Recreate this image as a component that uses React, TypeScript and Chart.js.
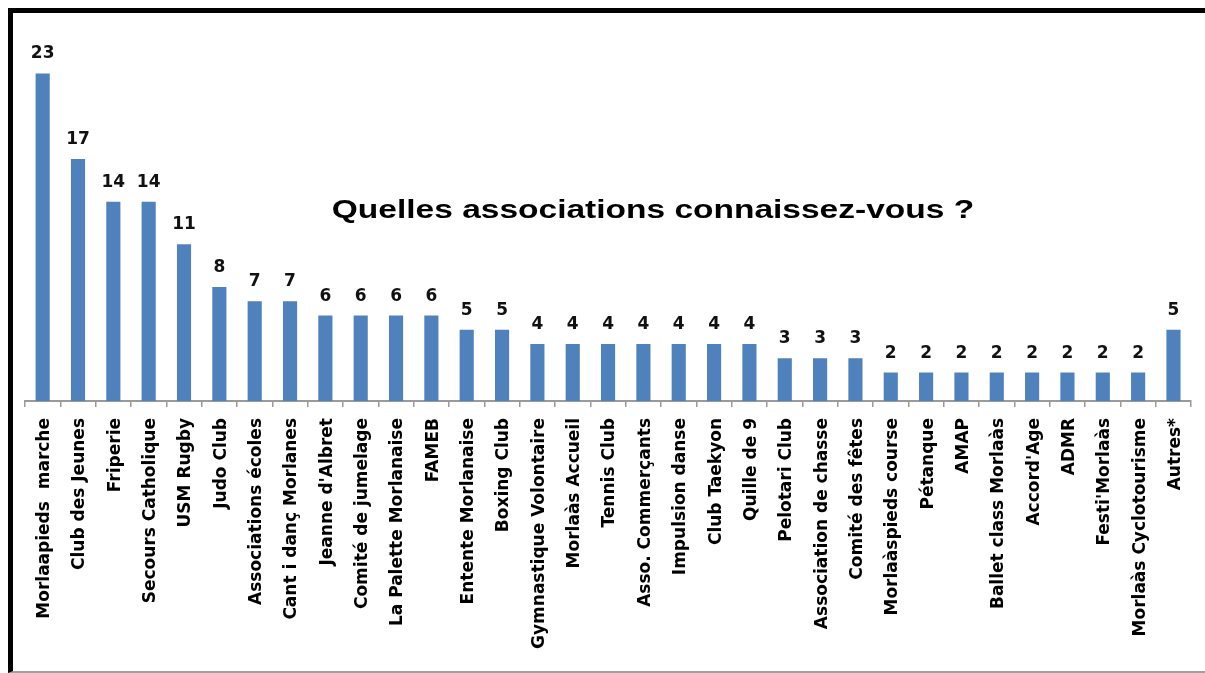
import React, { useEffect, useRef } from "react";
import { Chart, registerables } from "chart.js";

Chart.register(...registerables);

const categories: string[] = [
  "Morlaapieds  marche",
  "Club des Jeunes",
  "Friperie",
  "Secours Catholique",
  "USM Rugby",
  "Judo Club",
  "Associations écoles",
  "Cant i danç Morlanes",
  "Jeanne d'Albret",
  "Comité de jumelage",
  "La Palette Morlanaise",
  "FAMEB",
  "Entente Morlanaise",
  "Boxing Club",
  "Gymnastique Volontaire",
  "Morlaàs Accueil",
  "Tennis Club",
  "Asso. Commerçants",
  "Impulsion danse",
  "Club Taekyon",
  "Quille de 9",
  "Pelotari Club",
  "Association de chasse",
  "Comité des fêtes",
  "Morlaàspieds course",
  "Pétanque",
  "AMAP",
  "Ballet class Morlaàs",
  "Accord'Age",
  "ADMR",
  "Festi'Morlaàs",
  "Morlaàs Cyclotourisme",
  "Autres*",
];

const counts: number[] = [
  23, 17, 14, 14, 11, 8, 7, 7, 6, 6, 6, 6, 5, 5, 4, 4, 4, 4, 4, 4, 4, 3, 3, 3, 2, 2, 2, 2, 2, 2, 2, 2, 5,
];

const chartTitle = "Quelles associations connaissez-vous ?";

const valueLabels = {
  id: "valueLabels",
  afterDatasetsDraw(chart: any) {
    const ctx = chart.ctx;
    const meta = chart.getDatasetMeta(0);
    ctx.save();
    ctx.font = "bold 17px 'DejaVu Sans'";
    ctx.fillStyle = "#111111";
    ctx.textAlign = "center";
    ctx.textBaseline = "alphabetic";
    meta.data.forEach((bar: any, i: number) => {
      ctx.fillText(String(counts[i]), bar.x, bar.y - 15);
    });
    ctx.restore();
  },
};

const innerTitle = {
  id: "innerTitle",
  afterDraw(chart: any) {
    const ctx = chart.ctx;
    const area = chart.chartArea;
    const cx = area.left + (area.right - area.left) * 0.5385;
    const cy = area.top + (area.bottom - area.top) * 0.4857;
    ctx.save();
    ctx.translate(cx, cy);
    ctx.scale(1.34, 1);
    ctx.font = "bold 25px 'Liberation Sans'";
    ctx.fillStyle = "#000000";
    ctx.textAlign = "center";
    ctx.textBaseline = "alphabetic";
    ctx.fillText(chartTitle, 0, 0);
    ctx.restore();
  },
};

export default function App() {
  const ref = useRef<HTMLCanvasElement | null>(null);

  useEffect(() => {
    if (!ref.current) return;
    const chart = new Chart(ref.current, {
      type: "bar",
      data: {
        labels: categories,
        datasets: [
          {
            data: counts,
            backgroundColor: "#4F81BD",
            borderWidth: 0,
            barPercentage: 0.4,
            categoryPercentage: 1.0,
          },
        ],
      },
      options: {
        responsive: false,
        animation: false,
        devicePixelRatio: 1,
        layout: { padding: { left: 12, right: 9, top: 32, bottom: 0 } },
        plugins: {
          legend: { display: false },
          title: { display: false },
          tooltip: { enabled: false },
        },
        scales: {
          y: {
            display: false,
            min: 0,
            max: 25,
          },
          x: {
            offset: true,
            afterFit(scale: any) {
              scale.height = 270;
            },
            grid: {
              display: true,
              drawOnChartArea: false,
              drawTicks: true,
              tickLength: 6,
              color: "#9a9a9a",
              lineWidth: 1.5,
              offset: true,
            },
            border: { display: true, color: "#9a9a9a", width: 2 },
            ticks: {
              autoSkip: false,
              minRotation: 90,
              maxRotation: 90,
              padding: 11,
              labelOffset: 2,
              color: "#000000",
              font: { family: "'DejaVu Sans'", size: 17, weight: "bold" },
            },
          },
        },
      },
      plugins: [valueLabels, innerTitle],
    });
    return () => chart.destroy();
  }, []);

  return (
    <div
      style={{
        position: "absolute",
        left: 8,
        top: 8,
        width: 1197,
        height: 665,
        boxSizing: "border-box",
        borderLeft: "5px solid #000",
        borderTop: "5px solid #000",
        borderBottom: "2px solid #a0a0a0",
        background: "#fff",
        overflow: "hidden",
      }}
    >
      <canvas ref={ref} width={1192} height={658} style={{ display: "block" }} />
    </div>
  );
}
